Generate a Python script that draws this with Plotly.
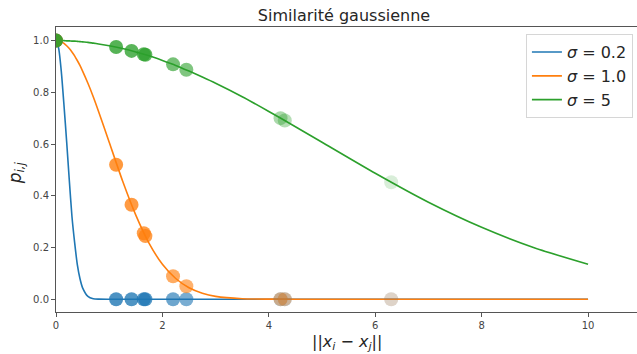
import plotly.graph_objects as go

# Curve samples
curve_x = [0, 0.05, 0.1, 0.15, 0.2, 0.25, 0.3, 0.35, 0.4, 0.45, 0.5, 0.6, 0.7, 0.8, 1.0, 1.25, 1.5, 1.75,
           2.0, 2.25, 2.5, 2.75, 3.0, 3.5, 4.0, 4.5, 5.0, 6.0, 7.0, 8.0, 9.0, 10.0]
blue_y = [1.0, 0.97, 0.88, 0.75, 0.61, 0.46, 0.32, 0.22, 0.135, 0.08, 0.044, 0.011, 0.002, 0.0003, 0.0,
          0, 0, 0, 0, 0, 0, 0, 0, 0, 0, 0, 0, 0, 0, 0, 0, 0]
orange_y = [1.0, 0.999, 0.995, 0.989, 0.98, 0.969, 0.956, 0.941, 0.923, 0.904, 0.882, 0.835, 0.783, 0.726,
            0.607, 0.458, 0.325, 0.216, 0.135, 0.080, 0.044, 0.023, 0.011, 0.002, 0.0003, 0.00004, 0.0,
            0, 0, 0, 0, 0]
green_y = [1.0, 1.0, 1.0, 1.0, 0.999, 0.999, 0.998, 0.998, 0.997, 0.996, 0.995, 0.993, 0.990, 0.987,
           0.980, 0.969, 0.956, 0.941, 0.923, 0.904, 0.882, 0.859, 0.835, 0.783, 0.726, 0.667, 0.607,
           0.487, 0.375, 0.278, 0.198, 0.135]

# Sample points (distances)
pt_x = [0.0, 1.13, 1.42, 1.65, 1.68, 2.20, 2.45, 4.22, 4.30, 6.30]
pt_blue = [1.0, 0, 0, 0, 0, 0, 0, 0, 0, 0]
pt_orange = [1.0, 0.52, 0.365, 0.255, 0.244, 0.089, 0.050, 0.0001, 0.0001, 0.0]
pt_green = [1.0, 0.975, 0.960, 0.947, 0.945, 0.908, 0.887, 0.700, 0.691, 0.452]
pt_alpha = [0.9, 0.8, 0.78, 0.75, 0.75, 0.65, 0.6, 0.4, 0.35, 0.18]

labels = ["<i>σ</i> = 0.2", "<i>σ</i> = 1.0", "<i>σ</i> = 5"]
colors = ["#1f77b4", "#ff7f0e", "#2ca02c"]

fig = go.Figure()
for ys, c, lab in zip([blue_y, orange_y, green_y], colors, labels):
    fig.add_trace(go.Scatter(x=curve_x, y=ys, mode="lines",
                             line=dict(color=c, width=1.6, shape="spline", smoothing=0.6), name=lab))
for ys, c in zip([pt_blue, pt_orange, pt_green], colors):
    fig.add_trace(go.Scatter(x=pt_x, y=ys, mode="markers", showlegend=False,
                             marker=dict(color=c, size=14, opacity=pt_alpha, line=dict(width=0))))

fig.update_layout(
    width=637, height=354,
    margin=dict(l=56, r=0, t=27, b=42, autoexpand=False),
    paper_bgcolor="white", plot_bgcolor="white",
    font=dict(family="DejaVu Sans", color="#262626"),
    title=dict(text="Similarité gaussienne", x=0.54, xanchor="center", y=0.957, yanchor="middle",
               font=dict(size=16, color="#262626")),
    showlegend=True,
    legend=dict(x=0.993, xanchor="right", y=0.975, yanchor="top", bordercolor="#d6d6d6", borderwidth=1,
                bgcolor="rgba(255,255,255,0.8)", font=dict(size=16, color="#262626"), tracegroupgap=0,
                itemwidth=30),
    annotations=[
        dict(text="||<i>x</i><sub><i>i</i></sub> − <i>x</i><sub><i>j</i></sub>||", xref="paper", yref="paper",
             x=0.5, y=-0.107, xanchor="center", yanchor="middle", showarrow=False, font=dict(size=16)),
        dict(text="<i>p</i><sub><i>i,j</i></sub>", xref="paper", yref="paper", x=-0.069, y=0.49,
             xanchor="center", yanchor="middle", textangle=-90, showarrow=False, font=dict(size=17)),
    ],
)
fig.update_xaxes(range=[0, 10.92], tickvals=[0, 2, 4, 6, 8, 10], ticks="outside", ticklen=4,
                 tickcolor="#555", showline=True, linecolor="#555", linewidth=1, mirror=True,
                 showgrid=False, zeroline=False, tickfont=dict(size=10, color="#444"), automargin=False)
fig.update_yaxes(range=[-0.0495, 1.0525], tickvals=[0, 0.2, 0.4, 0.6, 0.8, 1.0], tickformat=".1f",
                 ticks="outside", ticklen=4, tickcolor="#555", showline=True, linecolor="#555",
                 linewidth=1, mirror=False, showgrid=False, zeroline=False,
                 tickfont=dict(size=10, color="#444"), automargin=False)

fig.write_html("out.html", config={"displayModeBar": False},
               post_script="document.body.style.margin='0';document.body.style.overflow='hidden';")
